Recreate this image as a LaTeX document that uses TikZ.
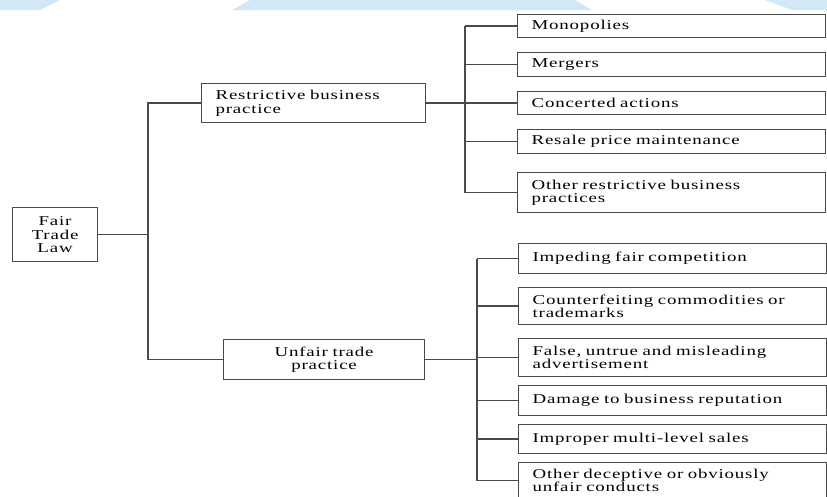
\documentclass[tikz,border=0pt]{standalone}
\usepackage{fontspec}
\setmainfont{Liberation Serif}[FakeStretch=1.4, LetterSpace=6]
\usepackage{tikz}
\usetikzlibrary{calc}
\definecolor{line}{HTML}{4A4A4A}
\definecolor{banner}{HTML}{D3E8F6}
\tikzset{
  box/.style={draw=line, line width=1.2pt, inner ysep=0pt, font=\fontsize{13.5}{13.5}\selectfont},
  leaf/.style={box, anchor=north west, text width=280pt, inner xsep=14pt, align=left},
  link/.style={draw=line, line width=1.3pt},
}
\begin{document}
\begin{tikzpicture}[x=1pt,y=-1pt]
  \useasboundingbox (0,0) rectangle (827,496);
  % banner at the top
  \fill[banner] (0,0) -- (60,0) -- (40,10) -- (0,10) -- cycle;
  \fill[banner] (250,0) -- (575,0) -- (592,10) -- (232,10) -- cycle;
  \fill[banner] (765,0) -- (827,0) -- (827,10) -- (792,10) -- cycle;
  \coordinate (mt) at (148,0);
  \coordinate (rt) at (465,0);
  \coordinate (ut) at (477,0);
  \node[box, anchor=north west, text width=75pt, inner xsep=5pt, minimum height=54pt, align=center]
    (law) at (12,207) {Fair\\Trade\\Law};
  \node[box, anchor=north west, text width=196pt, inner xsep=14pt, minimum height=39pt, align=left]
    (rbp) at (201,83) {Restrictive business\\practice};
  \node[box, anchor=north west, text width=181pt, inner xsep=10pt, minimum height=40pt, align=center]
    (utp) at (223,339) {Unfair trade\\practice};
  \foreach \n/\y/\h/\t in {r1/14/23/Monopolies, r2/52/24/Mergers, r3/91/23/Concerted actions,
      r4/129/24/Resale price maintenance, r5/172/40/{Other restrictive business\\practices}}
    \node[leaf, minimum height=\h pt] (\n) at (517,\y) {\t};
  \foreach \n/\y/\h/\t in {u1/243/30/Impeding fair competition,
      u2/287/37/{Counterfeiting commodities or\\trademarks},
      u3/338/38/{False, untrue and misleading\\advertisement},
      u4/385/30/Damage to business reputation, u5/424/29/Improper multi-level sales,
      u6/462/36/{Other deceptive or obviously\\unfair conducts}}
    \node[leaf, minimum height=\h pt] (\n) at (518,\y) {\t};
  % connectors
  \draw[link] (law.east) -- (law.east -| mt);
  \draw[link] (rbp.west) -- (rbp.west -| mt) -- (utp.west -| mt) -- (utp.west);
  \draw[link] (rbp.east) -- (rbp.east -| rt);
  \draw[link] (r1.west -| rt) -- (r5.west -| rt);
  \foreach \n in {r1,r2,r3,r4,r5}
    \draw[link] (\n.west -| rt) -- (\n.west);
  \draw[link] (utp.east) -- (utp.east -| ut);
  \draw[link] (u1.west -| ut) -- (u6.west -| ut);
  \foreach \n in {u1,u2,u3,u4,u5,u6}
    \draw[link] (\n.west -| ut) -- (\n.west);
\end{tikzpicture}
\end{document}
